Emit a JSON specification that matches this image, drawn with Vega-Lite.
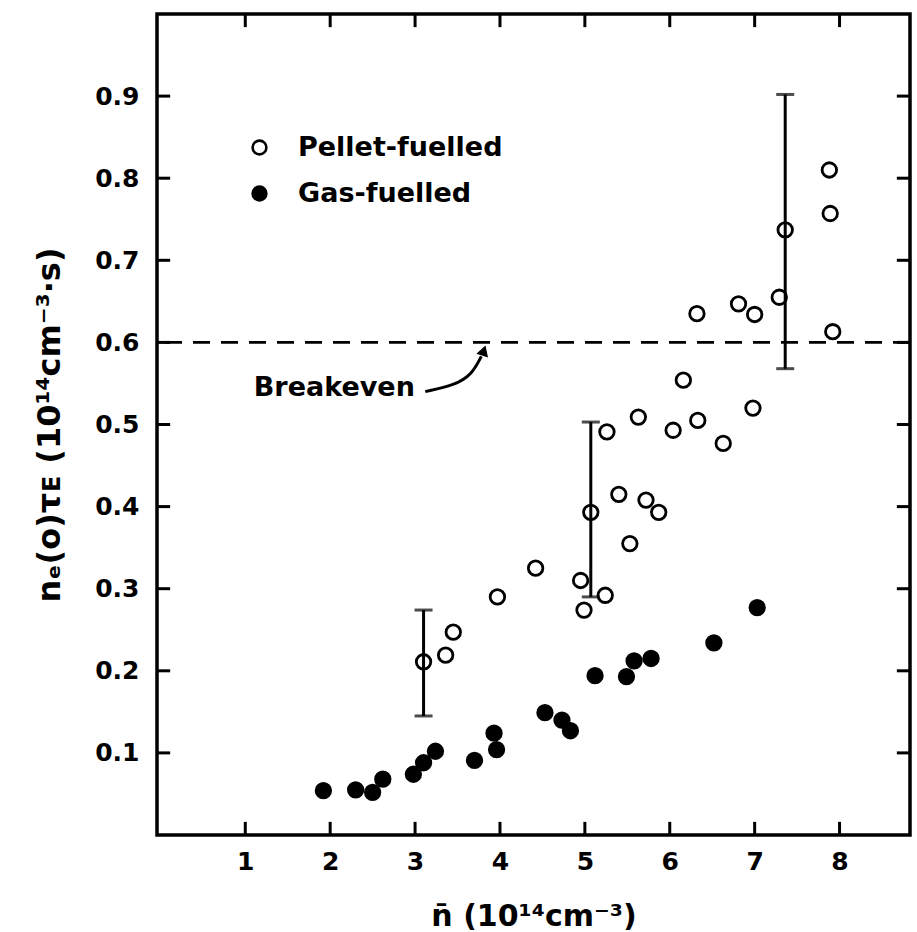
{
  "$schema": "https://vega.github.io/schema/vega-lite/v6.json",
  "autosize": "none",
  "width": 753,
  "height": 821,
  "padding": {"left": 157, "top": 14, "right": 7, "bottom": 97},
  "background": "white",
  "config": {
    "view": {"stroke": "black", "strokeWidth": 3.5},
    "font": "DejaVu Sans",
    "axis": {
      "domain": false,
      "grid": false,
      "ticks": false,
      "labelFont": "DejaVu Sans",
      "labelFontWeight": "bold",
      "labelFontSize": 25,
      "labelColor": "black",
      "titleFont": "DejaVu Sans",
      "titleFontWeight": "bold",
      "titleFontSize": 30,
      "titleColor": "black"
    }
  },
  "datasets": {
    "shots": [
      {"n": 3.10, "v": 0.211, "fuel": "Pellet-fuelled"},
      {"n": 3.36, "v": 0.219, "fuel": "Pellet-fuelled"},
      {"n": 3.45, "v": 0.247, "fuel": "Pellet-fuelled"},
      {"n": 3.97, "v": 0.290, "fuel": "Pellet-fuelled"},
      {"n": 4.42, "v": 0.325, "fuel": "Pellet-fuelled"},
      {"n": 4.95, "v": 0.310, "fuel": "Pellet-fuelled"},
      {"n": 4.99, "v": 0.274, "fuel": "Pellet-fuelled"},
      {"n": 5.07, "v": 0.393, "fuel": "Pellet-fuelled"},
      {"n": 5.24, "v": 0.292, "fuel": "Pellet-fuelled"},
      {"n": 5.26, "v": 0.491, "fuel": "Pellet-fuelled"},
      {"n": 5.40, "v": 0.415, "fuel": "Pellet-fuelled"},
      {"n": 5.53, "v": 0.355, "fuel": "Pellet-fuelled"},
      {"n": 5.63, "v": 0.509, "fuel": "Pellet-fuelled"},
      {"n": 5.72, "v": 0.408, "fuel": "Pellet-fuelled"},
      {"n": 5.87, "v": 0.393, "fuel": "Pellet-fuelled"},
      {"n": 6.04, "v": 0.493, "fuel": "Pellet-fuelled"},
      {"n": 6.16, "v": 0.554, "fuel": "Pellet-fuelled"},
      {"n": 6.32, "v": 0.635, "fuel": "Pellet-fuelled"},
      {"n": 6.33, "v": 0.505, "fuel": "Pellet-fuelled"},
      {"n": 6.63, "v": 0.477, "fuel": "Pellet-fuelled"},
      {"n": 6.81, "v": 0.647, "fuel": "Pellet-fuelled"},
      {"n": 6.98, "v": 0.520, "fuel": "Pellet-fuelled"},
      {"n": 7.00, "v": 0.634, "fuel": "Pellet-fuelled"},
      {"n": 7.29, "v": 0.655, "fuel": "Pellet-fuelled"},
      {"n": 7.36, "v": 0.737, "fuel": "Pellet-fuelled"},
      {"n": 7.88, "v": 0.810, "fuel": "Pellet-fuelled"},
      {"n": 7.89, "v": 0.757, "fuel": "Pellet-fuelled"},
      {"n": 7.92, "v": 0.613, "fuel": "Pellet-fuelled"},
      {"n": 1.92, "v": 0.054, "fuel": "Gas-fuelled"},
      {"n": 2.30, "v": 0.055, "fuel": "Gas-fuelled"},
      {"n": 2.50, "v": 0.052, "fuel": "Gas-fuelled"},
      {"n": 2.62, "v": 0.068, "fuel": "Gas-fuelled"},
      {"n": 2.98, "v": 0.074, "fuel": "Gas-fuelled"},
      {"n": 3.10, "v": 0.088, "fuel": "Gas-fuelled"},
      {"n": 3.24, "v": 0.102, "fuel": "Gas-fuelled"},
      {"n": 3.70, "v": 0.091, "fuel": "Gas-fuelled"},
      {"n": 3.93, "v": 0.124, "fuel": "Gas-fuelled"},
      {"n": 3.96, "v": 0.104, "fuel": "Gas-fuelled"},
      {"n": 4.53, "v": 0.149, "fuel": "Gas-fuelled"},
      {"n": 4.73, "v": 0.140, "fuel": "Gas-fuelled"},
      {"n": 4.83, "v": 0.127, "fuel": "Gas-fuelled"},
      {"n": 5.12, "v": 0.194, "fuel": "Gas-fuelled"},
      {"n": 5.49, "v": 0.193, "fuel": "Gas-fuelled"},
      {"n": 5.58, "v": 0.212, "fuel": "Gas-fuelled"},
      {"n": 5.78, "v": 0.215, "fuel": "Gas-fuelled"},
      {"n": 6.52, "v": 0.234, "fuel": "Gas-fuelled"},
      {"n": 7.03, "v": 0.277, "fuel": "Gas-fuelled"}
    ],
    "errors": [
      {"n": 3.10, "lo": 0.145, "hi": 0.274},
      {"n": 5.07, "lo": 0.290, "hi": 0.503},
      {"n": 7.36, "lo": 0.568, "hi": 0.902}
    ],
    "arrow": [
      {"step": 1, "n": 3.12, "v": 0.540},
      {"step": 2, "n": 3.47, "v": 0.548},
      {"step": 3, "n": 3.67, "v": 0.561},
      {"step": 4, "n": 3.78, "v": 0.583}
    ],
    "xticks": [
      {"t": 1, "a": 0, "b": 0.016}, {"t": 2, "a": 0, "b": 0.016}, {"t": 3, "a": 0, "b": 0.016}, {"t": 4, "a": 0, "b": 0.016},
      {"t": 5, "a": 0, "b": 0.016}, {"t": 6, "a": 0, "b": 0.016}, {"t": 7, "a": 0, "b": 0.016}, {"t": 8, "a": 0, "b": 0.016},
      {"t": 1, "a": 1, "b": 0.984}, {"t": 2, "a": 1, "b": 0.984}, {"t": 3, "a": 1, "b": 0.984}, {"t": 4, "a": 1, "b": 0.984},
      {"t": 5, "a": 1, "b": 0.984}, {"t": 6, "a": 1, "b": 0.984}, {"t": 7, "a": 1, "b": 0.984}, {"t": 8, "a": 1, "b": 0.984}
    ],
    "yticks": [
      {"t": 0.1, "a": -0.04, "b": 0.115}, {"t": 0.2, "a": -0.04, "b": 0.115}, {"t": 0.3, "a": -0.04, "b": 0.115},
      {"t": 0.4, "a": -0.04, "b": 0.115}, {"t": 0.5, "a": -0.04, "b": 0.115}, {"t": 0.6, "a": -0.04, "b": 0.115},
      {"t": 0.7, "a": -0.04, "b": 0.115}, {"t": 0.8, "a": -0.04, "b": 0.115}, {"t": 0.9, "a": -0.04, "b": 0.115},
      {"t": 0.1, "a": 8.83, "b": 8.675}, {"t": 0.2, "a": 8.83, "b": 8.675}, {"t": 0.3, "a": 8.83, "b": 8.675},
      {"t": 0.4, "a": 8.83, "b": 8.675}, {"t": 0.5, "a": 8.83, "b": 8.675}, {"t": 0.6, "a": 8.83, "b": 8.675},
      {"t": 0.7, "a": 8.83, "b": 8.675}, {"t": 0.8, "a": 8.83, "b": 8.675}, {"t": 0.9, "a": 8.83, "b": 8.675}
    ]
  },
  "layer": [
    {
      "data": {"name": "shots"},
      "mark": {"type": "point", "filled": true, "stroke": "black", "strokeWidth": 2.8, "size": 210, "opacity": 1},
      "encoding": {
        "x": {"field": "n", "type": "quantitative",
              "scale": {"domain": [-0.04, 8.83], "nice": false, "zero": false},
              "axis": {"orient": "bottom", "values": [1, 2, 3, 4, 5, 6, 7, 8], "format": "d", "labelPadding": 14,
                       "title": "n̄  (10¹⁴cm⁻³)", "titleFontSize": 30, "titlePadding": 27}},
        "y": {"field": "v", "type": "quantitative",
              "scale": {"domain": [0, 1], "nice": false},
              "axis": {"orient": "left", "values": [0.1, 0.2, 0.3, 0.4, 0.5, 0.6, 0.7, 0.8, 0.9], "format": ".1f",
                       "labelPadding": 18, "title": "nₑ(o)τᴇ (10¹⁴cm⁻³·s)", "titleFontSize": 32, "titlePadding": 28}},
        "fill": {"field": "fuel", "type": "nominal",
                 "scale": {"domain": ["Pellet-fuelled", "Gas-fuelled"], "range": ["#ffffff", "#000000"]},
                 "legend": {"title": null, "orient": "none", "legendX": 89, "legendY": 120,
                            "symbolType": "circle", "symbolSize": 190, "symbolStrokeColor": "black", "symbolStrokeWidth": 2.6,
                            "labelFont": "DejaVu Sans", "labelFontWeight": "bold", "labelFontSize": 27, "labelColor": "black",
                            "labelLimit": 0, "labelOffset": 25, "rowPadding": 18}}
      }
    },
    {
      "data": {"values": [{"level": 0.6}]},
      "mark": {"type": "rule", "color": "black", "strokeWidth": 2.6, "strokeDash": [17, 11]},
      "encoding": {
        "y": {"field": "level", "type": "quantitative"}
      }
    },
    {
      "data": {"name": "xticks"},
      "mark": {"type": "rule", "color": "black", "strokeWidth": 3},
      "encoding": {
        "x": {"field": "t", "type": "quantitative"},
        "y": {"field": "a", "type": "quantitative"},
        "y2": {"field": "b"}
      }
    },
    {
      "data": {"name": "yticks"},
      "mark": {"type": "rule", "color": "black", "strokeWidth": 3},
      "encoding": {
        "y": {"field": "t", "type": "quantitative"},
        "x": {"field": "a", "type": "quantitative"},
        "x2": {"field": "b"}
      }
    },
    {
      "data": {"name": "errors"},
      "mark": {"type": "rule", "color": "black", "strokeWidth": 3},
      "encoding": {
        "x": {"field": "n", "type": "quantitative"},
        "y": {"field": "lo", "type": "quantitative"},
        "y2": {"field": "hi"}
      }
    },
    {
      "data": {"name": "errors"},
      "mark": {"type": "tick", "orient": "horizontal", "color": "black", "size": 18, "thickness": 3},
      "encoding": {
        "x": {"field": "n", "type": "quantitative"},
        "y": {"field": "lo", "type": "quantitative"}
      }
    },
    {
      "data": {"name": "errors"},
      "mark": {"type": "tick", "orient": "horizontal", "color": "black", "size": 18, "thickness": 3},
      "encoding": {
        "x": {"field": "n", "type": "quantitative"},
        "y": {"field": "hi", "type": "quantitative"}
      }
    },
    {
      "data": {"name": "arrow"},
      "mark": {"type": "line", "color": "black", "strokeWidth": 3, "interpolate": "basis"},
      "encoding": {
        "x": {"field": "n", "type": "quantitative"},
        "y": {"field": "v", "type": "quantitative"},
        "order": {"field": "step", "type": "quantitative"}
      }
    },
    {
      "data": {"values": [{"n": 3.81, "v": 0.590}]},
      "mark": {"type": "point", "shape": "triangle-up", "filled": true, "color": "black", "size": 150, "angle": 18, "opacity": 1},
      "encoding": {
        "x": {"field": "n", "type": "quantitative"},
        "y": {"field": "v", "type": "quantitative"}
      }
    },
    {
      "data": {"values": [{"n": 1.10, "v": 0.544, "label": "Breakeven"}]},
      "mark": {"type": "text", "align": "left", "baseline": "middle", "font": "DejaVu Sans", "fontWeight": "bold", "fontSize": 27, "color": "black"},
      "encoding": {
        "x": {"field": "n", "type": "quantitative"},
        "y": {"field": "v", "type": "quantitative"},
        "text": {"field": "label"}
      }
    }
  ]
}
